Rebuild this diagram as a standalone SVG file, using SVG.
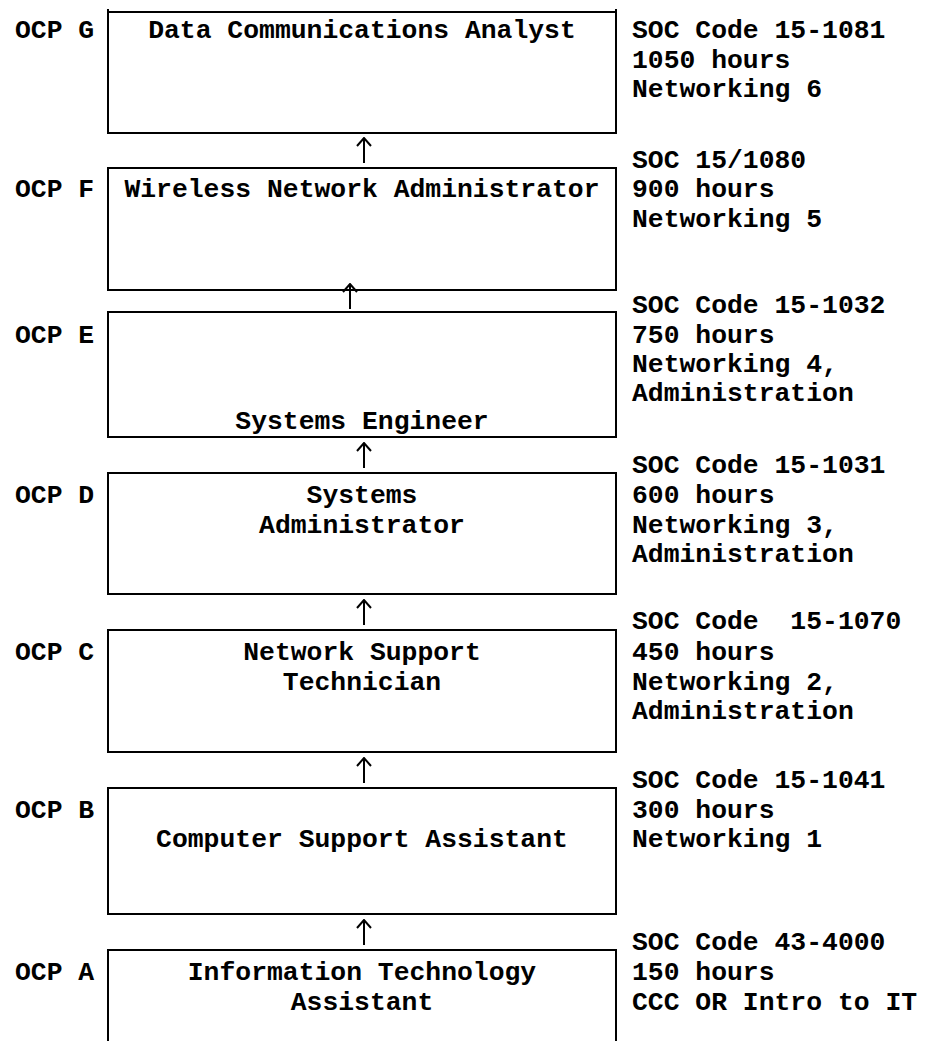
<svg xmlns="http://www.w3.org/2000/svg" width="930" height="1041" viewBox="0 0 930 1041">
<defs>
<style>
text{font-family:"Liberation Mono","Courier New",monospace;font-weight:bold;font-size:26.4px;fill:#000;white-space:pre}
.c{text-anchor:middle}
.box{fill:none;stroke:#000;stroke-width:2}
.arr{stroke:#000;stroke-width:2;fill:none}
</style>
<marker id="ah" viewBox="0 0 10 16" refX="9" refY="8" markerWidth="10" markerHeight="16" markerUnits="userSpaceOnUse" orient="auto">
<path d="M1,1 L9,8 L1,15" fill="none" stroke="#000" stroke-width="2"/>
</marker>
</defs>
<rect width="930" height="1041" fill="#fff"/>
<g id="nodeG">
<path class="box" d="M108,9 V133 H616 V9 M108,12 H616"/>
<text x="15" y="38">OCP G</text>
<text class="c" x="362" y="38">Data Communications Analyst</text>
<text x="632" y="38">SOC Code 15-1081</text>
<text x="632" y="68">1050 hours</text>
<text x="632" y="97">Networking 6</text>
</g>
<g id="nodeF">
<rect class="box" x="108" y="168" width="508" height="122"/>
<text x="15" y="197">OCP F</text>
<text class="c" x="362" y="197">Wireless Network Administrator</text>
<text x="632" y="168">SOC 15/1080</text>
<text x="632" y="197">900 hours</text>
<text x="632" y="227">Networking 5</text>
</g>
<g id="nodeE">
<rect class="box" x="108" y="312" width="508" height="125"/>
<text x="15" y="343">OCP E</text>
<text class="c" x="362" y="429">Systems Engineer</text>
<text x="632" y="313">SOC Code 15-1032</text>
<text x="632" y="343">750 hours</text>
<text x="632" y="372">Networking 4,</text>
<text x="632" y="401">Administration</text>
</g>
<g id="nodeD">
<rect class="box" x="108" y="473" width="508" height="121"/>
<text x="15" y="503">OCP D</text>
<text class="c" x="362" y="503">Systems</text>
<text class="c" x="362" y="533">Administrator</text>
<text x="632" y="473">SOC Code 15-1031</text>
<text x="632" y="503">600 hours</text>
<text x="632" y="533">Networking 3,</text>
<text x="632" y="562">Administration</text>
</g>
<g id="nodeC">
<rect class="box" x="108" y="630" width="508" height="122"/>
<text x="15" y="660">OCP C</text>
<text class="c" x="362" y="660">Network Support</text>
<text class="c" x="362" y="690">Technician</text>
<text x="632" y="629">SOC Code  15-1070</text>
<text x="632" y="660">450 hours</text>
<text x="632" y="690">Networking 2,</text>
<text x="632" y="719">Administration</text>
</g>
<g id="nodeB">
<rect class="box" x="108" y="788" width="508" height="126"/>
<text x="15" y="818">OCP B</text>
<text class="c" x="362" y="847">Computer Support Assistant</text>
<text x="632" y="788">SOC Code 15-1041</text>
<text x="632" y="818">300 hours</text>
<text x="632" y="847">Networking 1</text>
</g>
<g id="nodeA">
<path class="box" d="M108,1045 V950 H616 V1045"/>
<text x="15" y="980">OCP A</text>
<text class="c" x="362" y="980">Information Technology</text>
<text class="c" x="362" y="1010">Assistant</text>
<text x="632" y="950">SOC Code 43-4000</text>
<text x="632" y="980">150 hours</text>
<text x="632" y="1010">CCC OR Intro to IT</text>
</g>
<g id="connectors">
<line class="arr" x1="364" y1="163" x2="364" y2="138" marker-end="url(#ah)"/>
<line class="arr" x1="350" y1="309" x2="350" y2="284" marker-end="url(#ah)"/>
<line class="arr" x1="364" y1="468" x2="364" y2="443" marker-end="url(#ah)"/>
<line class="arr" x1="364" y1="625" x2="364" y2="600" marker-end="url(#ah)"/>
<line class="arr" x1="364" y1="783" x2="364" y2="758" marker-end="url(#ah)"/>
<line class="arr" x1="364" y1="945" x2="364" y2="920" marker-end="url(#ah)"/>
</g>
</svg>
